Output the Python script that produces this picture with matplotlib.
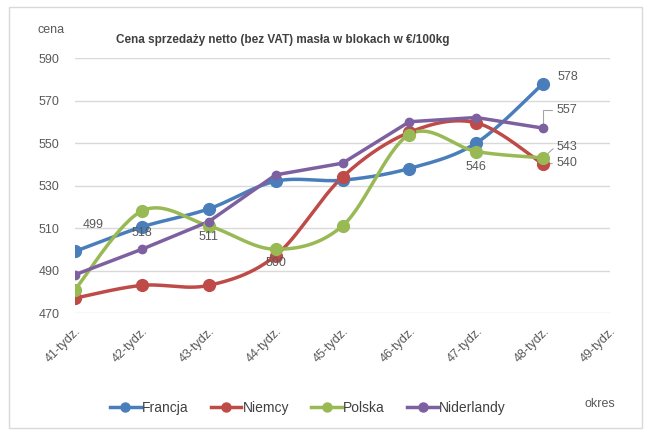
import numpy as np
import matplotlib as mpl
mpl.use('Agg')
import matplotlib.pyplot as plt
from matplotlib.patches import Rectangle

plt.rcParams['font.family'] = ['Liberation Sans', 'DejaVu Sans']

tygodnie = ['41-tydz.', '42-tydz.', '43-tydz.', '44-tydz.', '45-tydz.',
            '46-tydz.', '47-tydz.', '48-tydz.', '49-tydz.']
Francja = [499, 510.5, 519, 532, 532.5, 538, 550, 578]
Niemcy = [477, 483, 483, 497, 534, 555, 559.5, 540]
Polska = [481, 518, 511, 500, 511, 554, 546, 543]
Niderlandy = [488, 500, 513, 535, 540.5, 560, 562, 557]

kolory = {'Francja': '#4a7ebb', 'Niemcy': '#be4b48', 'Polska': '#98b954', 'Niderlandy': '#7d60a0'}
szary = '#595959'


def wygladz(x, y, n=30):
    # krzywa jak w Excelu (Catmull-Rom -> Bezier)
    x = np.asarray(x, float)
    y = np.asarray(y, float)
    p = np.column_stack([x, y])
    pts = []
    for i in range(len(p) - 1):
        p0 = p[i - 1] if i > 0 else p[i]
        p3 = p[i + 2] if i + 2 < len(p) else p[i + 1]
        c1 = p[i] + (p[i + 1] - p0) / 6
        c2 = p[i + 1] - (p3 - p[i]) / 6
        t = np.linspace(0, 1, n)[:, None]
        seg = ((1 - t) ** 3) * p[i] + 3 * ((1 - t) ** 2) * t * c1 + 3 * (1 - t) * t ** 2 * c2 + t ** 3 * p[i + 1]
        pts.append(seg if i == 0 else seg[1:])
    pts = np.vstack(pts)
    return pts[:, 0], pts[:, 1]


fig = plt.figure(figsize=(6.54, 4.32), dpi=100)
ax = fig.add_axes([75 / 654, 1 - 313 / 432, 535 / 654, 255 / 432])

fig.patches.append(Rectangle((9 / 654, 1 - 428 / 432), 633 / 654, 421 / 432,
                             transform=fig.transFigure, fill=False,
                             edgecolor='#d9d9d9', linewidth=1))

x = np.arange(len(Francja))
seria = [('Francja', Francja, True, 8.5), ('Niemcy', Niemcy, True, 8.5),
         ('Polska', Polska, True, 8.5), ('Niderlandy', Niderlandy, False, 6)]
for nazwa, y, gladka, ms in seria:
    if gladka:
        xs, ys = wygladz(x, y)
    else:
        xs, ys = x, y
    ax.plot(xs, ys, color=kolory[nazwa], linewidth=2.5, zorder=3)
    ax.plot(x, y, 'o', color=kolory[nazwa], markersize=ms, zorder=4)
    ax.plot([], [], '-o', color=kolory[nazwa], linewidth=2.5, markersize=6.5, label=nazwa)

ax.set_xlim(0, len(tygodnie) - 1)
ax.set_ylim(470, 590)
ax.set_yticks(range(470, 591, 20))
ax.set_xticks(range(len(tygodnie)))
ax.set_xticklabels(tygodnie, rotation=45, ha='right', va='top', rotation_mode='anchor')
ax.tick_params(axis='both', length=0, colors=szary, labelsize=9)
ax.tick_params(axis='x', pad=9)
ax.tick_params(axis='y', pad=11)
ax.grid(axis='y', color='#d9d9d9', linewidth=1)
ax.set_axisbelow(True)
for s in ax.spines.values():
    s.set_visible(False)

# etykiety danych
etykiety = [
    (0, Francja[0], '499', 18, 26),
    (1, Polska[1], '518', 0, -22),
    (2, Polska[2], '511', 0, -11),
    (3, Polska[3], '500', 0, -14),
    (6, Polska[6], '546', 0, -15),
    (7, Francja[7], '578', 25, 7),
    (7, Niderlandy[7], '557', 24, 18),
    (7, Polska[7], '543', 24, 11),
    (7, Niemcy[7], '540', 24, 1),
]
for xi, yi, txt, dx, dy in etykiety:
    ax.annotate(txt, (xi, yi), xytext=(dx, dy), textcoords='offset pixels',
                ha='center', va='center', fontsize=9, color=szary, zorder=5)

# linie odniesienia
ax.annotate('', (7, Niderlandy[7]), xytext=(12, 18), textcoords='offset pixels',
            arrowprops=dict(arrowstyle='-', color='#a6a6a6', lw=0.8,
                            connectionstyle='angle,angleA=0,angleB=90,rad=0'))
ax.annotate('', (7, Polska[7]), xytext=(12, 11), textcoords='offset pixels',
            arrowprops=dict(arrowstyle='-', color='#a6a6a6', lw=0.8))
ax.annotate('', (7, Niemcy[7]), xytext=(12, 1), textcoords='offset pixels',
            arrowprops=dict(arrowstyle='-', color='#a6a6a6', lw=0.8))

fig.text(51 / 654, 1 - 30 / 432, 'cena', ha='center', va='center', fontsize=9, color=szary)
fig.text(283 / 654, 1 - 40 / 432, 'Cena sprzedaży netto (bez VAT) masła w blokach w €/100kg',
         ha='center', va='center', fontsize=8.5, fontweight='bold', color='#404040')
fig.text(600 / 654, 1 - 404 / 432, 'okres', ha='center', va='center', fontsize=9, color=szary)

leg = fig.legend(loc='center', bbox_to_anchor=(308 / 654, 1 - 408 / 432), ncol=4,
                 frameon=False, fontsize=10, handlelength=2.2, handletextpad=0.1,
                 columnspacing=1.6)
for t in leg.get_texts():
    t.set_color('#404040')

fig.savefig('out.png', dpi=100)
